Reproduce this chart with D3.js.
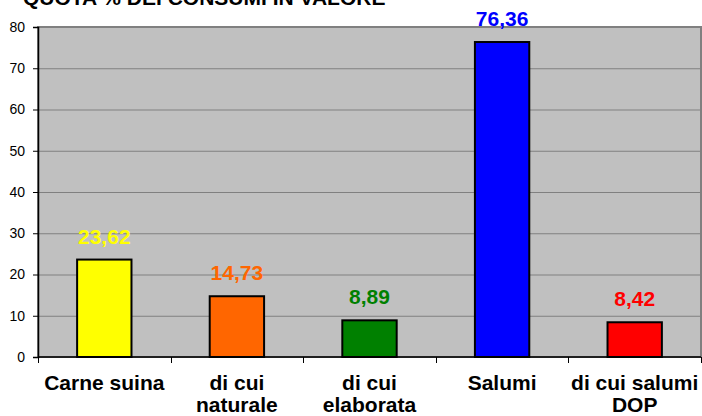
<!DOCTYPE html>
<html>
<head>
<meta charset="utf-8">
<script src="https://cdn.jsdelivr.net/npm/d3@7"></script>
<style>
  body { margin: 0; background: #fff; }
  svg { display: block; font-family: "Liberation Sans", Arial, sans-serif; }
</style>
</head>
<body>
<div id="chart"></div>
<script>
// data
var categories = ["Carne suina", "di cui naturale", "di cui elaborata", "Salumi", "di cui salumi DOP"];
var catLines = [["Carne suina"], ["di cui", "naturale"], ["di cui", "elaborata"], ["Salumi"], ["di cui salumi", "DOP"]];
var values = [23.62, 14.73, 8.89, 76.36, 8.42];
var valueLabels = ["23,62", "14,73", "8,89", "76,36", "8,42"];
var barColors = ["#FFFF00", "#FF6600", "#008000", "#0000FF", "#FF0000"];
var yTicks = [0, 10, 20, 30, 40, 50, 60, 70, 80];
var title = "QUOTA % DEI CONSUMI IN VALORE";

var totalWidth = 702, totalHeight = 416;
var margin = { top: 27, right: 1, bottom: 59, left: 38 };
var width = totalWidth - margin.left - margin.right;
var height = totalHeight - margin.top - margin.bottom;

var svg = d3.select("#chart").append("svg")
    .attr("width", totalWidth)
    .attr("height", totalHeight);

// title sits partly above the top edge, as in the original
svg.append("text")
    .attr("x", 23)
    .attr("y", 5)
    .style("font-size", "21px")
    .style("font-weight", "bold")
    .text(title);

var g = svg.append("g")
    .attr("transform", "translate(" + margin.left + "," + margin.top + ")");

var x = d3.scaleBand()
    .domain(categories)
    .range([0, width])
    .paddingInner(0.59)
    .paddingOuter(0.295);

var y = d3.scaleLinear()
    .domain([0, 80])
    .range([height, 0]);

// plot area
g.append("rect")
    .attr("x", 0)
    .attr("y", 0)
    .attr("width", width)
    .attr("height", height)
    .attr("fill", "#C0C0C0")
    .attr("stroke", "#808080")
    .attr("stroke-width", 2);

// gridlines
g.selectAll(".grid")
    .data(yTicks.filter(function(d) { return d > 0 && d < 80; }))
    .enter().append("line")
    .attr("class", "grid")
    .attr("x1", 0)
    .attr("x2", width)
    .attr("y1", function(d) { return y(d) + 0.5; })
    .attr("y2", function(d) { return y(d) + 0.5; })
    .attr("stroke", "#808080")
    .attr("stroke-width", 1);

// y axis
var yAxis = d3.axisLeft(y)
    .tickValues(yTicks)
    .tickSize(5)
    .tickPadding(8);

var yg = g.append("g").attr("class", "y-axis").call(yAxis);
yg.select(".domain").attr("stroke", "#000").attr("stroke-width", 1.5);
yg.selectAll(".tick line").attr("stroke", "#000");
yg.selectAll(".tick text")
    .style("font-size", "14px")
    .style("font-family", "Liberation Sans, Arial, sans-serif")
    .attr("fill", "#000");

// x axis
var step = x.step();
var boundaries = d3.range(categories.length + 1).map(function(i) { return i * step; });

g.append("line")
    .attr("x1", 0)
    .attr("x2", width)
    .attr("y1", height)
    .attr("y2", height)
    .attr("stroke", "#000")
    .attr("stroke-width", 1.5);

g.selectAll(".xtick")
    .data(boundaries)
    .enter().append("line")
    .attr("class", "xtick")
    .attr("x1", function(d) { return Math.round(d) + 0.5; })
    .attr("x2", function(d) { return Math.round(d) + 0.5; })
    .attr("y1", height)
    .attr("y2", height + 6)
    .attr("stroke", "#000");

// bars
g.selectAll(".bar")
    .data(values)
    .enter().append("rect")
    .attr("class", "bar")
    .attr("x", function(d, i) { return x(categories[i]); })
    .attr("y", function(d) { return y(d); })
    .attr("width", x.bandwidth())
    .attr("height", function(d) { return height - y(d); })
    .attr("fill", function(d, i) { return barColors[i]; })
    .attr("stroke", "#000")
    .attr("stroke-width", 2);

// value labels
g.selectAll(".value")
    .data(values)
    .enter().append("text")
    .attr("class", "value")
    .attr("x", function(d, i) { return x(categories[i]) + x.bandwidth() / 2; })
    .attr("y", function(d) { return y(d) - 16; })
    .attr("text-anchor", "middle")
    .style("font-size", "21px")
    .style("font-weight", "bold")
    .attr("fill", function(d, i) { return barColors[i]; })
    .text(function(d, i) { return valueLabels[i]; });

// category labels
var cats = g.selectAll(".cat")
    .data(categories)
    .enter().append("text")
    .attr("class", "cat")
    .attr("x", function(d) { return x(d) + x.bandwidth() / 2; })
    .attr("y", height + 33)
    .attr("text-anchor", "middle")
    .style("font-size", "21px")
    .style("font-weight", "bold")
    .attr("fill", "#000");

cats.each(function(d, i) {
    var t = d3.select(this);
    catLines[i].forEach(function(line, j) {
        t.append("tspan")
            .attr("x", x(d) + x.bandwidth() / 2)
            .attr("dy", j === 0 ? 0 : 22)
            .text(line);
    });
});
</script>
</body>
</html>
